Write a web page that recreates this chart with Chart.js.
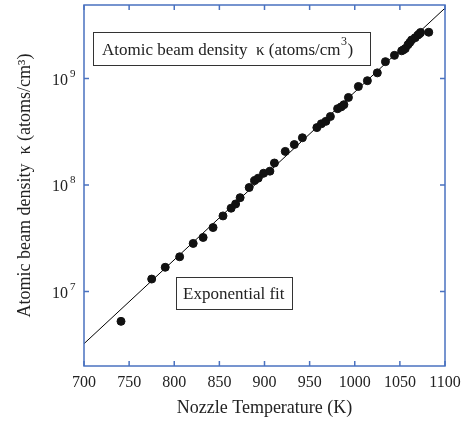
<!DOCTYPE html>
<html>
<head>
<meta charset="utf-8">
<script src="https://cdn.jsdelivr.net/npm/chart.js@4.4.0/dist/chart.umd.min.js"></script>
<style>
  html, body { margin: 0; padding: 0; background: #fff; }
</style>
</head>
<body>
<canvas id="chart" width="464" height="421"></canvas>
<script>
// measured points (nozzle temperature K, density atoms/cm^3)
const temps = [741, 775, 790, 806, 821, 832, 843, 854, 863, 868, 873, 883, 889, 893, 899, 906,
  911, 923, 933, 942, 958, 963, 968, 973, 981, 985, 988, 993, 1004, 1014, 1025, 1034, 1044,
  1052, 1054, 1056, 1059, 1061, 1063, 1067, 1070, 1072, 1073, 1082];
const density = [5.25e6, 1.31e7, 1.69e7, 2.12e7, 2.83e7, 3.22e7, 3.99e7, 5.13e7, 6.06e7, 6.64e7,
  7.61e7, 9.48e7, 1.10e8, 1.16e8, 1.29e8, 1.35e8, 1.61e8, 2.07e8, 2.40e8, 2.78e8, 3.46e8, 3.76e8,
  3.96e8, 4.40e8, 5.21e8, 5.42e8, 5.68e8, 6.64e8, 8.42e8, 9.54e8, 1.13e9, 1.44e9, 1.65e9, 1.82e9,
  1.86e9, 1.91e9, 2.08e9, 2.18e9, 2.30e9, 2.42e9, 2.56e9, 2.64e9, 2.71e9, 2.72e9];

// exponential fit end points
const fitTemps = [700, 1100];
const fitDensity = [3.24e6, 4.58e9];

const xTicks = [700, 750, 800, 850, 900, 950, 1000, 1050, 1100];
const yTicks = [1e7, 1e8, 1e9];

const axisColor = "#4a72c0";
const serif = "'Liberation Serif', 'Times New Roman', serif";

// frame, inward ticks, y tick labels with exponents and the two text boxes
const framePlugin = {
  id: "frame",
  afterDraw(chart) {
    const ctx = chart.ctx;
    const a = chart.chartArea;
    const xs = chart.scales.x;
    const ys = chart.scales.y;
    ctx.save();
    ctx.strokeStyle = axisColor;
    ctx.lineWidth = 1.5;
    ctx.strokeRect(a.left, a.top, a.right - a.left, a.bottom - a.top);
    ctx.beginPath();
    xs.ticks.forEach((t) => {
      const px = xs.getPixelForValue(t.value);
      ctx.moveTo(px, a.bottom);
      ctx.lineTo(px, a.bottom - 5);
      ctx.moveTo(px, a.top);
      ctx.lineTo(px, a.top + 5);
    });
    ys.ticks.forEach((t) => {
      const py = ys.getPixelForValue(t.value);
      ctx.moveTo(a.left, py);
      ctx.lineTo(a.left + 5, py);
      ctx.moveTo(a.right, py);
      ctx.lineTo(a.right - 5, py);
    });
    ctx.stroke();

    ctx.fillStyle = "#222";
    ctx.textBaseline = "alphabetic";

    // y tick labels: 10 with raised exponent
    ys.ticks.forEach((t) => {
      const py = ys.getPixelForValue(t.value);
      const exp = String(Math.round(Math.log10(t.value)));
      ctx.font = "16px " + serif;
      ctx.textAlign = "right";
      ctx.fillText("10", a.left - 16, py + 6);
      ctx.font = "11px " + serif;
      ctx.textAlign = "left";
      ctx.fillText(exp, a.left - 14, py - 2);
    });
    ctx.textAlign = "left";

    // text boxes
    ctx.strokeStyle = "#333";
    ctx.lineWidth = 1;
    ctx.font = "17px " + serif;

    let bx = a.left + 9, by = a.top + 27;
    ctx.strokeRect(bx + 0.5, by + 0.5, 277, 33);
    const main = "Atomic beam density  \u03ba (atoms/cm";
    ctx.fillText(main, bx + 9, by + 23);
    const w = ctx.measureText(main).width;
    ctx.font = "12px " + serif;
    ctx.fillText("3", bx + 9 + w + 0.5, by + 13);
    ctx.font = "17px " + serif;
    ctx.fillText(")", bx + 9 + w + 7, by + 23);

    bx = a.left + 92; by = a.top + 272;
    ctx.strokeRect(bx + 0.5, by + 0.5, 116, 32);
    ctx.fillText("Exponential fit", bx + 7, by + 22);
    ctx.restore();
  }
};

new Chart(document.getElementById("chart"), {
  data: {
    datasets: [
      {
        type: "scatter",
        data: temps.map((t, i) => ({ x: t, y: density[i] })),
        backgroundColor: "#111",
        borderColor: "#111",
        pointRadius: 4,
        order: 0
      },
      {
        type: "line",
        data: fitTemps.map((t, i) => ({ x: t, y: fitDensity[i] })),
        borderColor: "#000",
        borderWidth: 1,
        pointRadius: 0,
        fill: false,
        order: 1
      }
    ]
  },
  options: {
    responsive: false,
    animation: false,
    layout: { padding: { top: 3, right: 19, left: 0, bottom: 0 } },
    plugins: { legend: { display: false }, tooltip: { enabled: false } },
    scales: {
      x: {
        type: "linear",
        min: 700,
        max: 1100,
        afterBuildTicks: (s) => { s.ticks = xTicks.map((v) => ({ value: v })); },
        afterFit: (s) => { s.height = 55; s.paddingLeft = 0; s.paddingRight = 0; },
        grid: { display: false, drawTicks: false },
        border: { display: false },
        ticks: {
          padding: 7,
          color: "#222",
          font: { family: serif, size: 16 },
          maxRotation: 0,
          callback: (v) => String(v)
        },
        title: {
          display: true,
          text: "Nozzle Temperature (K)",
          color: "#222",
          font: { family: serif, size: 18 },
          padding: { top: 0, bottom: 2 }
        }
      },
      y: {
        type: "logarithmic",
        min: 2e6,
        max: 4.9e9,
        afterBuildTicks: (s) => { s.ticks = yTicks.map((v) => ({ value: v })); },
        afterFit: (s) => { s.width = 84; s.paddingTop = 0; s.paddingBottom = 0; },
        grid: { display: false, drawTicks: false },
        border: { display: false },
        ticks: {
          padding: 7,
          color: "rgba(0,0,0,0)",
          font: { family: serif, size: 15 },
          callback: (v) => "10^" + Math.round(Math.log10(v))
        },
        title: {
          display: true,
          text: "Atomic beam density  \u03ba (atoms/cm\u00b3)",
          color: "#222",
          font: { family: serif, size: 18 },
          padding: { top: 14, bottom: 0 }
        }
      }
    }
  },
  plugins: [framePlugin]
});
</script>
</body>
</html>
